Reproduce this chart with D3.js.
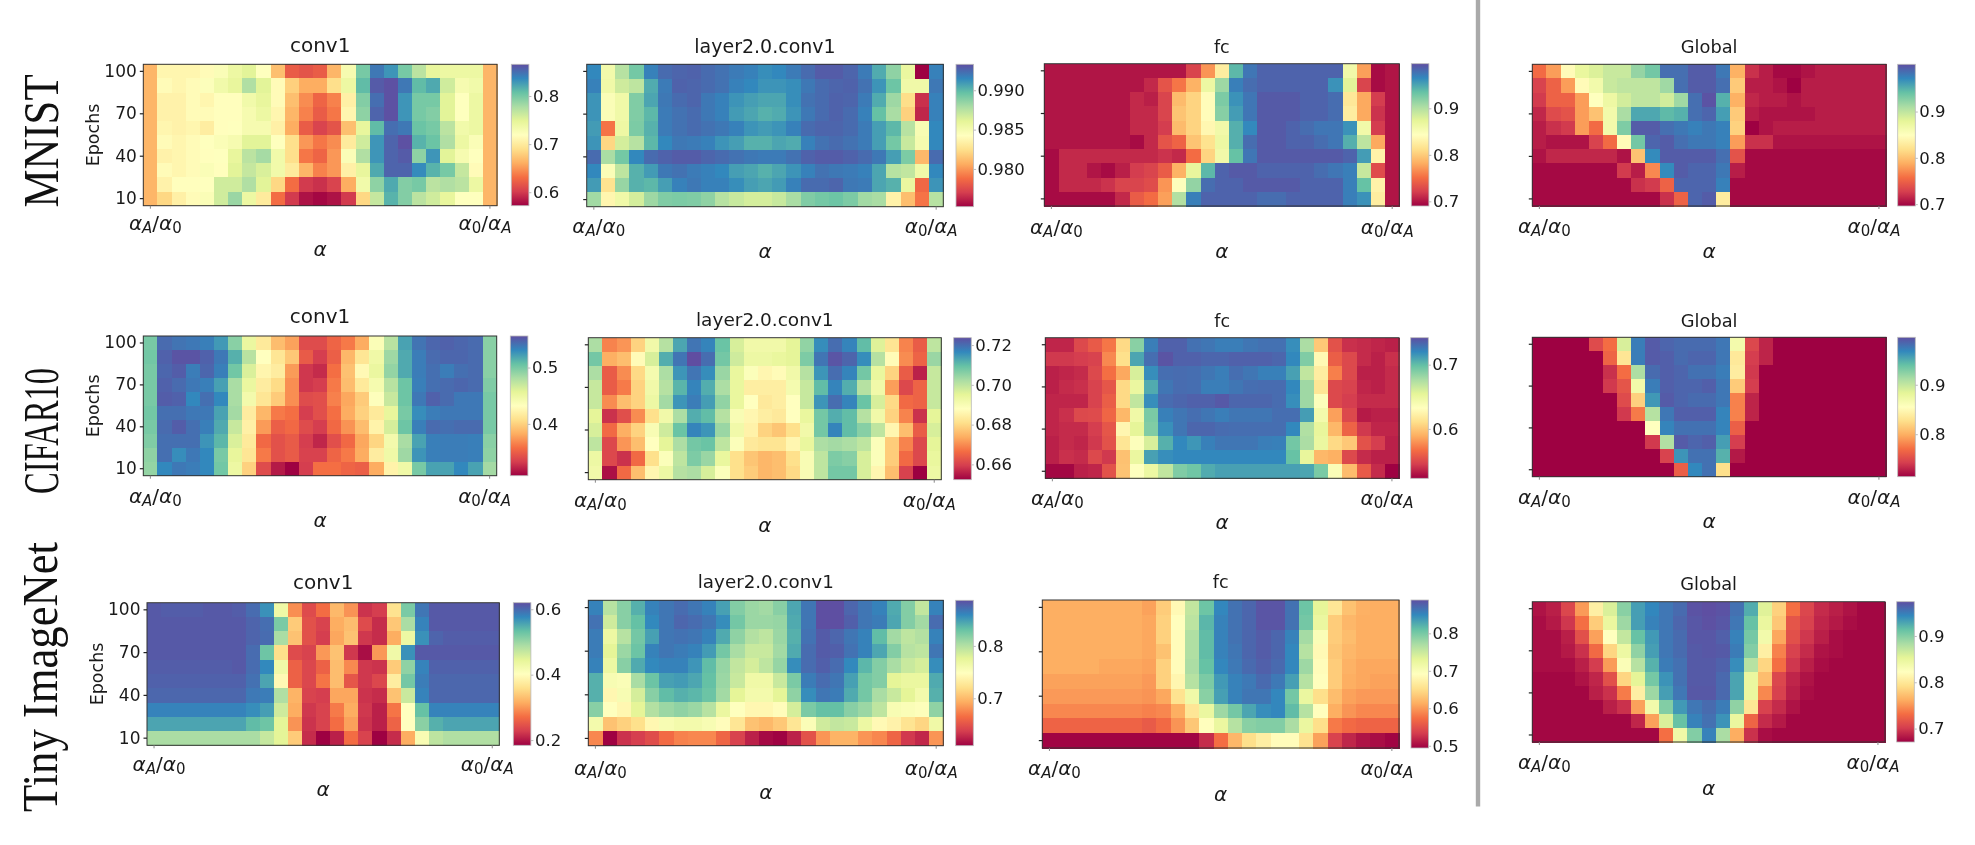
<!DOCTYPE html>
<html><head><meta charset="utf-8">
<script src="https://cdn.jsdelivr.net/npm/d3@7/dist/d3.min.js"></script>
<style>html,body{margin:0;padding:0;background:#fff}svg{display:block;filter:blur(0.4px)}text{font-family:"DejaVu Sans";fill:#1a1a1a}</style>
</head><body><svg id="c" width="1975" height="845"></svg>
<script>
// All values: accuracy in percent, rows from epoch 100 (top) to epoch 10 (bottom), 25 alpha columns.
const epochs=[100,90,80,70,60,50,40,30,20,10];
const yTickEpochs=[100,70,40,10];
const mnistConv1=[
[66.5,71,71,71,71.5,72.5,74,75,72,67,62,61.5,62,66.5,73,80,84.5,83,80,77,74.5,74,74,74,66.5],
[66.5,71.5,71,71.5,72.2,73.5,74.5,77.5,75,71.5,68,66,66,69,74,81,86,86.5,84.5,81,82,76,73,73.5,66.5],
[66.5,70.7,70.7,71.5,71,71.8,71.8,73.5,74.5,71.5,67,64.5,62.5,64,70.5,79.5,85,86.5,83,80,80,75,72,74,66.5],
[66.5,70.7,70.7,71.5,71.5,71.8,71.8,73,74,71,66.5,64,62,63.5,71,79,85.5,86.5,83,80,79.5,75,72,74,66.5],
[66.5,71,70.7,71,70.2,71.8,72,73,73,70.5,66,62,60.5,61.5,67,74.5,81,85,84.5,80.5,80,77,73.5,74,66.5],
[66.5,71.5,71,71.5,72,72.5,73,75,75,72,69,65,63.5,64.5,70,76,83,85.5,86.5,81.5,80.5,77.5,74,72.5,66.5],
[66.5,70.7,71,71.5,71.8,72,74.5,77,78,73.5,69,63.5,62.5,65,72.5,77.5,83,85.5,86,79,83,75,73,72,66.5],
[66.5,71.5,71,71.5,72.5,71.8,75,76.5,75.5,73.5,70,66.5,64,65,70.5,74.5,82,85.5,85.5,83.5,81.5,80,76.5,71.5,66.5],
[66.5,70.7,71.8,71.8,72,76,76,77.5,75,68.5,63,60,59.5,60.5,66,73.5,79,82,79.5,80,77,77.5,77,74,66.5],
[66.5,68.5,70.5,71.5,72.5,76,78.5,74,70,63,60,58,57.5,58,60,68.5,76.5,81.5,79.5,77,76,74.5,72,72,66.5]];
const mnistLayer2=[
[99.15,98.52,98.75,98.93,99.17,99.24,99.26,99.27,99.24,99.22,99.19,99.17,99.13,99.15,99.19,99.24,99.29,99.29,99.26,99.19,99.04,98.86,98.57,97.52,99.17],
[99.17,98.53,98.68,98.73,99.04,99.19,99.27,99.26,99.24,99.22,99.17,99.15,99.11,99.11,99.13,99.2,99.24,99.26,99.27,99.22,99.11,98.95,98.53,98.53,99.2],
[99.11,98.46,98.53,98.9,99.06,99.2,99.24,99.26,99.2,99.17,99.11,99.08,99.06,99.06,99.13,99.22,99.24,99.27,99.26,99.19,99.04,98.82,98.24,97.66,99.17],
[99.11,98.46,98.53,98.9,99,99.19,99.22,99.24,99.2,99.17,99.09,99.06,99.02,99.04,99.11,99.2,99.24,99.27,99.24,99.17,98.97,98.79,98.19,97.63,99.17],
[99.09,97.9,98.55,98.91,99.02,99.19,99.22,99.24,99.22,99.2,99.17,99.11,99.09,99.11,99.17,99.24,99.26,99.26,99.24,99.19,99.08,99,98.75,98.48,99.15],
[99.11,98.21,98.66,98.75,99,99.15,99.2,99.19,99.17,99.11,99.08,99.02,99.02,99.06,99.04,99.17,99.22,99.24,99.22,99.19,99.08,98.93,98.7,98.5,99.15],
[99.24,98.79,98.93,99.15,99.24,99.27,99.29,99.29,99.26,99.24,99.22,99.2,99.19,99.19,99.22,99.27,99.29,99.29,99.27,99.24,99.2,99.08,98.91,98.1,99.24],
[99.15,98.46,98.73,99.02,99.09,99.2,99.22,99.19,99.17,99.15,99.08,99.06,99.02,99.06,99.11,99.17,99.22,99.2,99.19,99.17,99.06,98.75,98.72,98.53,99.15],
[99.09,98.26,98.84,99.02,99,99.08,99.17,99.2,99.17,99.17,99.13,99.08,99.06,99.09,99.17,99.24,99.24,99.26,99.2,99.19,99.06,99.02,98.57,97.86,99.11],
[98.81,98.37,98.53,98.66,98.82,98.9,98.91,98.9,98.86,98.75,98.7,98.66,98.66,98.7,98.79,98.9,98.93,98.95,98.91,98.81,98.79,98.35,98.12,97.9,98.75]];
const mnistFc=[
[70,70,70,70,70,70,70,70,70,70,72.5,77,82.5,94,97.5,98.5,98.5,98.5,98.5,98.5,98.5,86,77.5,69.5,70],
[70,70,70,70,70,70,70,71,73.5,75.5,78.5,86.5,91,97,98,98.5,98.5,98.5,98.5,98.5,96,87.5,72.5,69.5,70],
[70,70,70,70,70,70,71,70.5,72.5,79,80.5,84,92.5,96,97.5,99,99,99,98.5,98.5,98,82,78,72,70],
[70,70,70,70,70,70,71,71,72.5,79.5,80.5,84,92,95.5,97.5,99,99,99,98.5,98.5,98,82.5,78,71.5,70],
[70,70,70,70,70,70,71,71,72,79,80.5,83.5,86,94.5,96.5,99,99,98.5,98,97.5,97.5,96,86,72,70],
[70,70,70,70,70,70,69.5,71,73.5,74.5,79.5,81.5,86.5,94.5,98,99,99,98.5,98.5,98,97.5,94.5,89.5,78,70],
[69.5,71,71,71,71,71,71,71,71.5,71,75,80.5,86,93.5,97.5,99,99,99,99,99,99,98.5,95.5,83,70],
[69.5,71,71,70,69.5,70.5,72,72.5,74,78.5,87,94,98.5,99,99,98.5,98.5,98.5,98.5,98,97.5,97,89,73,70],
[69.5,71,71,71,71.5,72.5,72.5,73,77,84.5,91.5,98,98.5,98.5,99,99,99,99,98.5,98.5,98.5,97,93.5,83,70],
[69.5,69.5,69.5,69.5,69.5,71,74,75,77.5,90,97,98.5,98.5,98.5,98.5,98,98,98.5,98.5,98.5,98.5,97,96,82.5,70]];
const mnistGlobal=[
[75.5,78,84.5,87.5,88.5,89.5,89.5,92,93.5,98.5,98.5,99.5,99.5,98,79,72,71,70,70,70.5,71,71,71,71,71],
[73,75,78,84.5,86.5,89.5,90,90,90,91.5,98.5,99.5,99.5,98.5,80.5,71,71,70.5,69.6,71,71,71,71,71,71],
[72.5,75,75,78,85,87,89,90,90,89,91.5,98.5,100,95,79,71.5,71,71,70.5,71,71,71,71,71,71],
[71.5,73.5,74,78,80,86.5,91,95.5,95.5,94.5,95,98.5,99,96,80.5,71,70.5,70.5,70.5,70.5,71,71,71,71,71],
[71,72,72.5,78,75.5,86.5,93,99.5,99.5,98.5,98,97.5,98,97.5,81,69.6,70.5,71,71,71,71,71,71,71,71],
[71,70.5,70.5,70.5,73,75.5,84.5,93.5,99,99.5,98.5,98,98,97.5,78,72,72,70.5,70.5,70.5,70.5,70.5,70.5,70.5,70.5],
[70.5,71.5,71.5,71.5,71.5,71.5,70.5,80,97,99.5,99.5,99.5,99.5,98.5,74,70,70,70,70,70,70,70,70,70,70],
[70,70,70,70,70,70,72.5,71,77,97,99.5,99,99,98,71,70,70,70,70,70,70,70,70,70,70],
[70,70,70,70,70,70,70,72,72.5,75,99,99,99,97.5,70,70,70,70,70,70,70,70,70,70,70],
[70,70,70,70,70,70,70,70,70,72,75,99,99.5,83,70,70,70,70,70,70,70,70,70,70,70]];
const cifarConv1=[
[50,54.4,54,53.8,53.5,52.4,49.4,45.2,41.5,39,37.8,34,34,35.3,36.2,38.2,43.7,47.6,52,54,54.6,54.8,54.6,54.4,49.4],
[50.2,54.8,55.4,55.4,54.8,53.8,51.4,47.6,43.2,41.2,39.5,34.8,33.3,35,38.7,41.2,44.7,48.6,51.7,53.6,54.4,54.6,54.6,54.4,49.4],
[50,54.6,55,53.6,54.6,53.5,50.2,46.2,42.4,41.7,37.5,33,32.5,35.8,39.2,42.7,45.2,49,51.7,53.6,54.2,53.6,54.2,54.4,49.4],
[50,54.8,54.4,53.8,53.5,52.1,48.2,45.2,41.7,40.5,37,33,33.3,36.2,39,41.5,44.2,47.6,50.4,53.5,54.2,54.4,54.6,54.4,49.7],
[50,55,54.8,53.1,54.2,53.1,48.2,44.4,41.2,39.7,37,34,34.2,36.5,38,39.7,43.4,47,50.4,53.8,54.8,54.4,53.8,53.8,50],
[50.2,54.2,54.2,53.8,53.8,52,48.4,41.7,38.7,36.2,35.8,33.3,34.2,35.8,38.2,40,41.5,45.4,50,52.9,53.6,53.8,53.8,53.8,50],
[50,54.4,55,54.2,53.5,51.7,47,42,37.5,35,35.5,34,33.3,35.5,37.2,39,42.2,46.4,50.4,53.5,54.4,54.2,54.4,54.4,50],
[49.7,54.2,54.2,54.2,52.6,51.1,46.2,41.5,35.5,34.3,34.8,33.3,32.3,34.2,35.5,38,40.2,44.4,48.2,52,53.5,53.6,53.6,53.5,49.4],
[49.2,54.2,52.9,53.8,53.1,50,45.4,41.2,36.2,34.3,34.8,33.5,33.5,35.3,36.2,38.2,41.7,44.7,48.6,52.6,53.5,53.6,53.6,53.5,49.2],
[49,53.1,53.8,53.6,53.1,50.2,45,40,34,31.8,30.8,33.3,35.8,35.8,35.3,35,38.2,42.2,44.7,50,52,52,53.1,52,48.4]];
const cifarLayer2=[
[70.2,66.9,67.1,67.9,69.2,70.1,71.3,71.9,71.7,70.9,69.7,69.2,69.2,69.2,69.5,70.5,71.6,72,71.7,71,69.6,68.2,66.9,66.4,70],
[70.8,67.4,67.6,68.7,69.7,71.2,71.9,72.4,72,70.8,69.8,69.3,69.3,69.4,69.5,70.7,71.9,72.3,72.1,71.6,70.1,68.7,67,66.5,70.4],
[70.2,66.4,67,68,69.1,70.2,71.5,71.9,71.6,70.4,69.4,68.9,68.6,68.7,69.2,70.1,71.5,72,71.7,70.8,69.4,67.9,66.4,65.6,69.9],
[69.9,66.4,66.8,67.9,69.2,70.1,71.1,71.7,71.2,70.2,69.4,68.4,68.4,68.4,69.1,69.9,71,71.7,71.2,70.1,69.2,67.2,66.1,66.5,69.9],
[69.9,67,67.6,67.9,69.3,70.3,71.5,71.8,71.4,70.5,69.4,68.8,68.3,68.4,68.8,69.9,71.5,72,71.7,70.9,69.7,68,66.6,66.5,69.9],
[69.5,65.8,66.2,67,68.1,69.2,70.2,71.2,71,70.1,69,68.6,68.4,68.3,68.8,69.4,70.8,71.2,71,70.1,69.2,67.9,66.9,65.8,69.5],
[69.7,66.6,67.4,67.9,69,69.8,70.9,71.7,71.5,70.4,69.2,68.5,67.9,67.7,68.1,69.2,70.8,71.7,71,70.6,70,68.6,67.6,66.4,69.7],
[70,66.1,67.1,67.6,68.8,69.5,70.2,70.8,70.9,70,68.9,68.3,68.2,68.2,68.6,69.4,70.2,70.3,70.2,70,68.9,67.8,66.9,66.1,69.5],
[69.3,66.1,65.8,66.6,68.1,68.9,70,70.7,70.4,69.4,68.1,67.7,67.5,67.6,68.1,69,70,70.7,70.6,69.7,68.9,67.8,66.6,66.1,69.4],
[69.2,65.4,66.6,67.6,68.6,69.3,70.1,70.2,69.7,68.9,68.1,67.8,67.5,67.6,68,69,70,70.8,70.8,69.7,68.6,67.6,66,65.2,69.3]];
const cifarFc=[
[53.6,53.6,55,55.8,57,60.8,68.7,72.4,73.5,73.5,72.9,72.7,72.4,72.4,72.7,72.9,72.9,71.8,67.6,60,55.4,54,53.8,53.6,53.4],
[54.3,54.3,54.5,54.7,57.6,61.1,70.9,73,74,73.5,73.5,73.3,73.3,73.5,73.5,73.5,73.3,72,69,62.8,56,55,53.8,53.4,54],
[53.4,53.6,53.8,55,56.7,58.7,66,71.8,73,73.1,73,72.7,72.4,73,72.7,72.3,72.3,71.1,66.8,62,57.3,55,53.4,53.4,53.8],
[53.4,53.8,54,54.7,55.6,60.8,65,70.7,72.7,73.1,73,72.4,72.4,72.7,73,73.1,73.1,72,68,61.5,55,54.7,53.6,53.4,53.8],
[53.6,53.6,53.6,54.7,56,60.8,66.8,71.8,73.1,73.3,73.5,73.5,73.8,73.3,73.3,73.3,73.1,71.8,68,63.5,55,54.5,53.8,53.8,53.8],
[53.6,54,55,55.1,56.3,59.3,64.6,69.2,72.3,72.7,73,72.7,72.4,72.7,72.7,72.7,73,73,71.2,64.3,58.4,55,53.2,53.4,53.4],
[53.6,53.8,53.8,54.5,55.6,62.6,65.4,69,71.7,72.7,73.3,73.3,73.1,73,73,73,73,72,67.4,65.2,59.3,56.2,54.3,53.6,53.6],
[53.4,53.8,53.6,54.3,55.4,61.5,63.5,66,70.5,72,71.5,72.3,72.7,72.7,72.7,72.4,72.3,69.4,67.6,65,60.8,60,55.4,54.5,53.4],
[53.4,54,53.8,55,54.3,59.7,65,71.1,71.8,72,72,72,72,72,72,72,72,69.8,65.2,59.3,59,55,53.8,53.4,53.4],
[52.5,52.5,53.4,53.6,55.4,59.8,63.3,64.8,66.8,69,69.5,70.7,71.1,71.1,71.1,71.1,71.1,71.1,70.9,69.2,63.7,59.5,55.8,53.8,52.3]];
const cifarGlobal=[
[71.4,71.4,71.4,71.4,75,77,89,97.3,99,98.5,98.2,98.2,98.2,97.6,86.9,74.8,73,71.4,71.4,71.4,71.4,71.4,71.4,71.4,71.4],
[71.4,71.4,71.4,71.4,71.4,76.5,83.2,97.3,99,98.8,98.2,98.5,98.5,97.6,83.5,74.2,73,71.4,71.4,71.4,71.4,71.4,71.4,71.4,71.4],
[71.4,71.4,71.4,71.4,71.4,73.6,77,91,98.2,98.8,98.5,97.9,97.9,97.3,83.8,74,71.4,71.4,71.4,71.4,71.4,71.4,71.4,71.4,71.4],
[71.4,71.4,71.4,71.4,71.4,74,75.6,87,97.3,98.8,98.5,98.5,98.8,97.6,81.5,74.2,71.4,71.4,71.4,71.4,71.4,71.4,71.4,71.4,71.4],
[71.4,71.4,71.4,71.4,71.4,71.4,75,81.8,96,99,98.5,98.2,98.2,97.6,77.9,73,71.4,71.4,71.4,71.4,71.4,71.4,71.4,71.4,71.4],
[71.4,71.4,71.4,71.4,71.4,71.4,74,77.6,90.6,97.6,98.8,98.8,98.8,97,77.9,73,71.4,71.4,71.4,71.4,71.4,71.4,71.4,71.4,71.4],
[71.4,71.4,71.4,71.4,71.4,71.4,71.4,71.4,85.5,97,97.9,97.9,97.9,97,76.2,71.4,71.4,71.4,71.4,71.4,71.4,71.4,71.4,71.4,71.4],
[71.4,71.4,71.4,71.4,71.4,71.4,71.4,71.4,74,90.8,99,98.5,98.8,95.7,74.2,71.4,71.4,71.4,71.4,71.4,71.4,71.4,71.4,71.4,71.4],
[71.4,71.4,71.4,71.4,71.4,71.4,71.4,71.4,71.4,74.5,96.2,97.9,97.9,94.8,72.5,71.4,71.4,71.4,71.4,71.4,71.4,71.4,71.4,71.4,71.4],
[71.4,71.4,71.4,71.4,71.4,71.4,71.4,71.4,71.4,71.4,76.2,96.8,97.9,82.7,71.4,71.4,71.4,71.4,71.4,71.4,71.4,71.4,71.4,71.4,71.4]];
const tinyConv1=[
[61.2,60.9,60.9,60.9,61.2,61.2,60.9,59.8,57,43,29.3,24,27,32.4,29.7,22,22.8,36.3,52,59,61.2,61.2,61.2,61.2,61.2],
[61.2,61.2,61.2,61.2,61.2,61.2,61.2,60.4,59.6,52,34,24.5,23.2,31.5,32.8,24,21.5,33.7,48.9,58,61.2,61.2,61.2,61.2,61.2],
[61.2,61.2,61.2,61.2,61.2,61.2,61.2,60.4,59.8,49,33.2,24.5,22.8,31,33.2,22.3,21.5,31.5,43.3,57,60.4,60.9,60.9,60.9,60.9],
[61.2,61.2,61.2,61.2,61.2,61.2,61.2,59.8,52.8,35.8,24,23.2,30,33.2,22.3,19.3,30,42.8,57,61.2,61.2,61.2,61.2,61.2,61.2],
[60.9,60.9,60.9,60.9,60.9,60.9,61.2,59.8,57.6,42.8,26,23.6,26,32.8,29,22.3,22,34,50.7,58,60.6,60.6,60.6,60.6,60.6],
[60.6,60.6,60.6,60.6,60.6,60.6,60.6,59.4,55.5,39.3,26,23.6,27.6,32.8,25,22.3,23.6,37.6,52.4,58.5,60.2,60.2,60.2,60.2,60.2],
[60.2,60.2,60.2,60.2,60.2,60.2,60.2,58.8,58.5,48.5,32,23.2,22.8,31,31,22,21.5,33.2,46.7,58,60.2,60.2,60.2,60.2,60.2],
[58,58,58,58,58,58,58,57.2,56,46.3,31.5,22.3,23.2,28,31.5,22.3,20.6,27.6,40.2,53.3,58,58,58,58,58],
[55.5,55.5,55.5,55.5,55.5,55.5,55.5,53.7,52.8,44.6,29.7,22,23.2,27,30.6,22,20.6,26.2,40.2,51,54.6,55.5,55.5,55.5,55.5],
[48.9,48.9,48.9,48.9,48.9,48.9,48.9,48.9,47,44.6,34,21.5,18.4,20.6,27,23.2,18.4,21.5,31.5,41.5,47.6,48.5,48.5,48.5,48.5]];
const tinyLayer2=[
[86.2,79.8,81.8,84,86.2,86.8,87.3,86.8,86.2,84.8,82,81,80.7,81.8,84.5,86.8,88.7,88.7,87.6,86.8,86.2,84.3,82,79.3,86.2],
[87,78.7,81.8,83.2,85.9,86.8,87.6,87.3,86.8,85.7,82.6,81,81,81.2,84.3,86.8,88.7,88.7,87.9,86.8,86.5,84.5,82,80.7,87.3],
[86.5,76.8,79.8,82.6,84.8,86.8,87,86.8,86.2,84.3,81.5,80,79.5,81,84,87,88.1,87.6,86.8,86.2,83.4,80.7,79.5,80,86.2],
[86.5,77.6,81,82.9,86.2,86.8,86.5,86.2,85,82.6,80.4,79,79,80.7,84.3,87.3,88.1,87.9,87,86.2,84.5,82,79.8,79.5,86.8],
[86.2,76.8,81.8,84.3,85.9,86.2,86.2,85.3,83.4,81.2,79.3,78.4,79.5,81.2,85.7,87.3,87.9,87.3,85.9,83.7,82,80.4,79,78.4,85.7],
[84,75.7,75.4,80.4,82.9,84.8,85,84.5,83.2,81,79,76.5,76.5,79,82.3,86.5,87.3,86.8,84.8,82.6,82,77.6,77,77,84.3],
[84,74.1,75.7,78.4,81.8,83.4,84,83.7,82.9,80.7,77.6,76.2,76.2,77.6,81.5,85.7,86.8,86.5,84.3,82.6,80.4,79,77.6,76.2,84],
[81.8,74.9,74.1,77.6,80,81,81.5,81,79.8,77,74.9,74.1,74.1,74.6,78.4,82.3,83.2,83.2,81.8,81,79.5,75.7,75.4,75.1,81.5],
[76.2,70.4,71.2,72.1,74.1,75.7,76.2,76.2,75.7,74.6,72.6,70.4,69.9,70.7,72.6,75.4,78.7,79.3,79,76.8,74.3,73.7,72.4,71.5,76.5],
[67.6,61,63.2,63.8,64.6,66.3,67.4,67.6,67.6,66,64,62.4,61.3,61,62.4,64.9,68.2,69.6,69.6,68.2,67.6,66,63.5,62.7,68.2]];
const tinyFc=[
[61.3,61.3,61.3,61.3,61.3,61.3,61.3,60.5,63.6,68.4,75.5,80.6,85,86.5,87.3,88.5,88.5,86.5,80.6,73,66,62.8,61.5,61.3,61.3],
[61.3,61.3,61.3,61.3,61.3,61.3,61.3,60.9,64,69,75.9,81.8,85.4,86.5,87.3,88.5,88.5,86.5,80.2,72.3,63.6,62,61.3,61.3,61.3],
[61.3,61.3,61.3,61.3,61.3,61.3,61.3,60.9,64,68.8,76.7,81.4,85.4,86.5,87.3,88,87.3,85.4,77.4,70,63.6,62.4,61.3,61.3,61.3],
[61.3,61.3,61.3,61.3,61.3,61.3,61.3,60.9,62.8,68.8,76.7,81.4,85.4,86.2,87.3,88,87.3,85,76.3,68.4,63.2,62,61.3,61.3,61.3],
[61.3,61.3,61.3,61.3,60.9,60.9,60.9,60.5,64,68.8,77,81,85,86,87,87.7,87,85,77.8,68.8,63.6,61.6,60.9,60.9,60.9],
[60.5,60.5,60.5,60.5,60.5,60.5,60.5,60,64,68,76.3,79.8,83.8,85.4,86,87,86,83.4,76.3,69,63.6,61.3,60.9,60.5,60.5],
[60,60,60,60,60,60,60,59.7,60.9,65.6,71.5,79,83.4,85.4,86.2,86.2,85,80.2,72.3,65.2,62.4,60.5,60,60,60],
[58.9,58.9,58.9,58.9,58.9,58.9,58.9,58.5,58.9,61.3,66,72.3,77.8,80.2,83,84.6,85,81.4,76.3,69,61.3,59.7,58.9,58.9,58.9],
[56.5,56.5,56.5,56.5,56.5,56.5,56.5,55.8,57,59.7,63.2,69,72.3,76.3,79,79.4,79.4,77,72.3,65.2,58,57,56.5,56.5,56.5],
[49.6,49.6,49.6,49.6,49.6,49.6,49.6,49.6,49.6,49.6,49.6,52.2,57.3,62,65.2,67,68.8,68.8,65.6,60.5,53.8,51.8,50.6,50.2,49.6]];
const tinyGlobal=[
[68,68.6,70.7,75.3,80.7,85.9,89.8,93.2,94.4,95.3,95.9,97.2,97.4,97.2,95.6,92.5,85.6,78.3,73.2,70.7,69.2,68.6,68,67.4,67.4],
[67.7,68.3,69.8,73.2,78,84.7,88.9,93.2,94.7,95.3,96.2,97,97.3,97,95.3,91.3,84.7,77.7,71.6,70.4,68.9,68.3,67.7,67.4,67.4],
[67.7,67.7,68.6,71.3,75.6,82.3,87.1,91.3,93.5,95.3,95.9,97,97,96.5,94.7,90.7,83.8,75.9,71.3,69.8,68.6,67.7,67.4,67.4,67.4],
[67.7,67.7,68.3,69.5,72.9,78.6,84.4,89.5,93.2,95.3,95.9,96.8,97,96.8,95,90.1,80.7,74.1,70.4,69.2,68,67.7,67.4,67.4,67.4],
[67.7,67.7,67.7,68.6,70.1,75.3,82.9,87.7,92.2,95,95.6,96.8,96.8,96.4,94.1,87.7,78.6,73.2,69.8,68.6,67.7,67.4,67.4,67.4,67.4],
[67.4,67.4,67.4,68,68.9,71.3,78.6,85.3,90.7,93.8,95.6,96.8,96.8,96,92.9,84.7,77.1,70.7,68.9,68,67.4,67.4,67.4,67.4,67.4],
[67.4,67.4,67.4,67.4,68.6,69.5,73.8,80.7,88.9,93.2,95.3,96.9,96.9,96,92.9,84.7,74.4,70.4,68.6,67.7,67.4,67.4,67.4,67.4,67.4],
[67.4,67.4,67.4,67.4,67.4,68.6,69.5,75.6,83.8,90.1,93.5,95.3,95.9,95,89.5,79.8,70.4,69.2,68,67.4,67.4,67.4,67.4,67.4,67.4],
[67.4,67.4,67.4,67.4,67.4,67.4,67.4,68.9,75.6,85.9,91.3,94.7,95.6,93.8,84.7,72.6,69.2,68.3,67.4,67.4,67.4,67.4,67.4,67.4,67.4],
[67.4,67.4,67.4,67.4,67.4,67.4,67.4,67.4,67.4,73.2,84.1,90.1,94.7,88.3,76.2,69.5,67.7,67.4,67.4,67.4,67.4,67.4,67.4,67.4,67.4]];

const spectral=["#9e0142","#d53e4f","#f46d43","#fdae61","#fee08b","#ffffbf","#e6f598","#abdda4","#66c2a5","#3288bd","#5e4fa2"];
const alphaCols=d3.range(25);
const panels=[
{t:"conv1",d:mnistConv1,dom:[57.2,86.6],tk:[60,70,80],dp:1,b:[143.3,497,64.3,205.7],cb:511.3,ts:20,ty:51.7,lx:24.5,ax:50,ep:1},
{t:"layer2.0.conv1",d:mnistLayer2,dom:[97.52,99.33],tk:[98,98.5,99],dp:3,b:[586.7,943.3,64.3,206.7],cb:956,ts:19,ty:52.7,lx:26,ax:51},
{t:"fc",d:mnistFc,dom:[69,99.6],tk:[70,80,90],dp:1,b:[1044.3,1399.3,63.7,206],cb:1411.3,ts:17.5,ty:52.7,lx:28,ax:52},
{t:"Global",d:mnistGlobal,dom:[69.6,100.2],tk:[70,80,90],dp:1,b:[1532.3,1886,64.3,206],cb:1897.7,ts:17.8,ty:52.7,lx:27,ax:52},
{t:"conv1",d:cifarConv1,dom:[30.8,55.6],tk:[40,50],dp:1,b:[143.3,496.7,336,475.7],cb:510.3,ts:20,ty:322.7,lx:27,ax:51,ep:1},
{t:"layer2.0.conv1",d:cifarLayer2,dom:[65.23,72.37],tk:[66,68,70,72],dp:2,b:[588.3,941.3,337.7,479.7],cb:953.7,ts:18.5,ty:325.7,lx:27,ax:52},
{t:"fc",d:cifarFc,dom:[52.3,74.2],tk:[60,70],dp:1,b:[1045.3,1399,337.7,478.3],cb:1410.7,ts:17.5,ty:326.7,lx:27,ax:51},
{t:"Global",d:cifarGlobal,dom:[71.4,99.6],tk:[80,90],dp:1,b:[1532.3,1886,337.3,476.7],cb:1897.7,ts:17.8,ty:326.7,lx:27,ax:51},
{t:"conv1",d:tinyConv1,dom:[18.4,62],tk:[20,40,60],dp:1,b:[147,499.3,602.7,745.3],cb:513.3,ts:20,ty:589.3,lx:25.5,ax:51,ep:1},
{t:"layer2.0.conv1",d:tinyLayer2,dom:[60.95,88.7],tk:[70,80],dp:1,b:[588.3,943.3,600.3,745.7],cb:955.7,ts:18.3,ty:587.7,lx:29,ax:53.5},
{t:"fc",d:tinyFc,dom:[49.4,88.9],tk:[50,60,70,80],dp:1,b:[1042.3,1399,600,748],cb:1411,ts:17.5,ty:588.3,lx:27,ax:52.5},
{t:"Global",d:tinyGlobal,dom:[67.1,97.4],tk:[70,80,90],dp:1,b:[1532.3,1885,601.7,742],cb:1896.7,ts:17.8,ty:590,lx:27,ax:53}
];
const rowLabels=[{s:"MNIST",x:58,y:141,len:133},{s:"CIFAR10",x:58,y:431,len:126},{s:"Tiny ImageNet",x:57,y:677,len:270}];

const svg=d3.select("#c");
const grad=svg.append("defs").append("linearGradient").attr("id","sp").attr("x1",0).attr("x2",0).attr("y1",1).attr("y2",0);
spectral.forEach((c,i)=>grad.append("stop").attr("offset",i/10).attr("stop-color",c));

function alphaLabel(g,x,y,a,b){
  const t=g.append("text").attr("x",x).attr("y",y).attr("text-anchor","middle").style("font-size","20px");
  t.append("tspan").style("font-style","italic").text("α");
  t.append("tspan").attr("dy",3).style("font-size","15px").style("font-style",a==="A"?"italic":"normal").text(a);
  t.append("tspan").attr("dy",-3).text("/");
  t.append("tspan").style("font-style","italic").text("α");
  t.append("tspan").attr("dy",3).style("font-size","15px").style("font-style",b==="A"?"italic":"normal").text(b);
}
panels.forEach(p=>{
  const [x0,x1,y0,y1]=p.b, g=svg.append("g");
  const x=d3.scaleBand(alphaCols,[x0,x1]), y=d3.scaleBand(epochs,[y0,y1]);
  const color=d3.scaleLinear().domain(spectral.map((_,i)=>p.dom[0]+(p.dom[1]-p.dom[0])*i/10)).range(spectral);
  const cells=p.d.flatMap((row,r)=>row.map((v,c)=>({r,c,v})));
  g.append("g").attr("shape-rendering","crispEdges").selectAll("rect").data(cells).join("rect")
    .attr("x",d=>x(d.c)).attr("y",d=>y(epochs[d.r])).attr("width",x.bandwidth()+.5).attr("height",y.bandwidth()+.5)
    .attr("fill",d=>color(d.v));
  g.append("rect").attr("x",x0).attr("y",y0).attr("width",x1-x0).attr("height",y1-y0).attr("fill","none").attr("stroke","#333").attr("stroke-width",1);
  const ay=d3.axisLeft(y).tickValues(yTickEpochs).tickSize(3.5).tickPadding(3).tickFormat(p.ep?d=>d:()=>"");
  const gy=g.append("g").attr("transform",`translate(${x0},0)`).call(ay);
  gy.select(".domain").remove(); gy.selectAll("text").style("font-size","17px").style("font-family","DejaVu Sans").attr("fill","#1a1a1a");
  gy.selectAll("line").attr("stroke","#222").attr("stroke-width",1.2);
  const ax=d3.axisBottom(x).tickValues([0,24]).tickSize(3).tickFormat(()=>"");
  const gx=g.append("g").attr("transform",`translate(0,${y1})`).call(ax);
  gx.select(".domain").remove(); gx.selectAll("line").attr("stroke","#888");
  const cx0=x(0)+x.bandwidth()/2, cx1=x(24)+x.bandwidth()/2;
  alphaLabel(g,cx0+5,y1+p.lx,"A","0");
  alphaLabel(g,cx1-5,y1+p.lx,"0","A");
  g.append("text").attr("x",(x0+x1)/2).attr("y",y1+p.ax).attr("text-anchor","middle").style("font-size","20px").style("font-style","italic").text("α");
  g.append("text").attr("x",(x0+x1)/2).attr("y",p.ty).attr("text-anchor","middle").style("font-size",p.ts+"px").text(p.t);
  if(p.ep) g.append("text").attr("transform",`translate(${x0-44},${(y0+y1)/2}) rotate(-90)`).attr("text-anchor","middle").style("font-size","17.5px").text("Epochs");
  const bw=17.6, cs=d3.scaleLinear(p.dom,[y1,y0]);
  g.append("rect").attr("x",p.cb).attr("y",y0).attr("width",bw).attr("height",y1-y0).attr("fill","url(#sp)").attr("stroke","#bbb").attr("stroke-width",.8);
  const ac=d3.axisRight(cs).tickValues(p.tk).tickSize(2.5).tickPadding(1.5).tickFormat(v=>(v/100).toFixed(p.dp));
  const gc=g.append("g").attr("transform",`translate(${p.cb+bw},0)`).call(ac);
  gc.select(".domain").remove(); gc.selectAll("line").attr("stroke","#bbb");
  gc.selectAll("text").style("font-size","16.5px").style("font-family","DejaVu Sans").attr("fill","#1a1a1a");
});
svg.append("rect").attr("x",1475.8).attr("y",0).attr("width",4.4).attr("height",806.5).attr("fill","#aaa");
rowLabels.forEach(l=>{
  svg.append("text").attr("transform",`translate(${l.x},${l.y}) rotate(-90)`).attr("text-anchor","middle")
    .attr("textLength",l.len).attr("lengthAdjust","spacingAndGlyphs")
    .style("font-family","Liberation Serif").style("font-size","50px").style("fill","#111").text(l.s);
});
</script></body></html>
